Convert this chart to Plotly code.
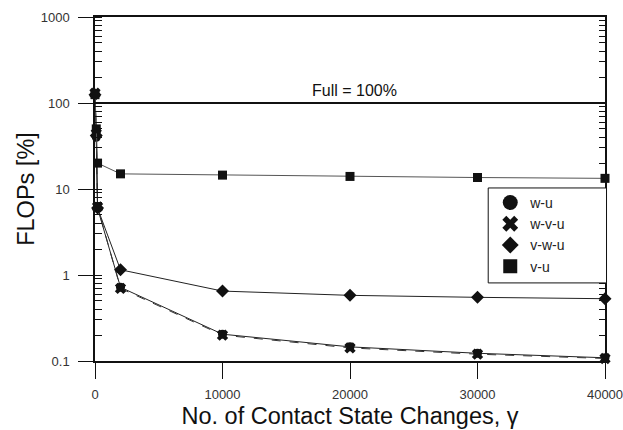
import plotly.graph_objects as go

x_vals = [0, 100, 200, 2000, 10000, 20000, 30000, 40000]
w_u = [125, 40, 6.0, 0.72, 0.205, 0.146, 0.123, 0.109]
w_v_u = [130, 44, 6.2, 0.70, 0.200, 0.142, 0.120, 0.107]
v_w_u = [125, 42, 6.0, 1.15, 0.65, 0.58, 0.55, 0.53]
v_u = [125, 50, 20, 15, 14.5, 14.0, 13.6, 13.3]
full_level = 100

series_names = ["w-u", "w-v-u", "v-w-u", "v-u"]
series_values = [w_u, w_v_u, v_w_u, v_u]

x_ticks = [0, 10000, 20000, 30000, 40000]
y_tickvals = [0.1, 1, 10, 100, 1000]
y_ticktext = ["0.1", "1", "10", "100", "1000"]

symbols = ["circle", "x", "diamond", "square"]
sizes = [9, 10, 10, 9]
leg_sizes = [15, 14, 13, 14]
dashes = ["solid", "dash", "solid", "solid"]
line_colors = ["#222", "#333", "#222", "#555"]

fig = go.Figure()
for name, vals, sym, sz, dsh, lc in zip(series_names, series_values, symbols, sizes, dashes, line_colors):
    fig.add_trace(go.Scatter(x=x_vals, y=vals, name=name, mode="lines+markers", showlegend=False,
                             line=dict(color=lc, width=1, dash=dsh),
                             marker=dict(symbol=sym, size=sz, color="#111"), cliponaxis=False))
for name, sym, lsz in zip(series_names, symbols, leg_sizes):
    fig.add_trace(go.Scatter(x=[None], y=[None], name=name, mode="markers",
                             marker=dict(symbol=sym, size=lsz, color="#111")))

fig.add_shape(type="line", xref="paper", x0=0, x1=1, yref="y", y0=full_level, y1=full_level,
              line=dict(color="#111", width=2))
fig.add_shape(type="rect", xref="paper", yref="paper", x0=0.771, x1=1.003, y0=0.227, y1=0.503,
              line=dict(color="#111", width=1), fillcolor="white", layer="above")
fig.add_annotation(x=0.508, xref="paper", y=2.15, yref="y", text="Full = 100%", showarrow=False,
                   font=dict(family="Arial, Liberation Sans", size=16, color="#111"))

fig.update_layout(
    width=623, height=430,
    margin=dict(l=95, r=18, t=17, b=69),
    paper_bgcolor="white", plot_bgcolor="white",
    font=dict(family="Arial, Liberation Sans", color="#222"),
    showlegend=True,
    legend=dict(x=0.775, y=0.506, xanchor="left", yanchor="top",
                bgcolor="rgba(0,0,0,0)", borderwidth=0,
                font=dict(size=14, color="#222"), itemwidth=30, tracegroupgap=0),
    xaxis=dict(range=[0, 40000], tickvals=x_ticks, ticktext=[str(v) for v in x_ticks],
               ticks="outside", ticklen=16, tickcolor="#111", tickwidth=1,
               showline=True, linecolor="#111", linewidth=1.5, mirror=True,
               showgrid=False, zeroline=False, ticklabeloverflow="allow", automargin=False,
               ticklabelstandoff=5,
               tickfont=dict(size=13, color="#333"),
               title=dict(text="No. of Contact State Changes, γ", font=dict(size=23.5, color="#111"),
                          standoff=6)),
    yaxis=dict(type="log", range=[-1, 3], tickvals=y_tickvals, ticktext=y_ticktext,
               ticks="outside", ticklen=15, tickcolor="#111", tickwidth=1,
               minor=dict(ticks="inside", ticklen=7, tickcolor="#111", dtick="D1", showgrid=False),
               showline=True, linecolor="#111", linewidth=1.5, automargin=False,
               showgrid=False, zeroline=False, ticklabelstandoff=6,
               tickfont=dict(size=13, color="#333"),
               title=dict(text="FLOPs [%]", font=dict(size=23.5, color="#111"), standoff=0)),
    yaxis2=dict(type="log", range=[-1, 3], overlaying="y", side="right",
                tickvals=y_tickvals, showticklabels=False, automargin=False,
                ticks="inside", ticklen=8, tickcolor="#111",
                minor=dict(ticks="inside", ticklen=6, tickcolor="#111", dtick="D1", showgrid=False),
                showline=True, linecolor="#111", linewidth=1.5, showgrid=False, zeroline=False),
)
# invisible trace to activate the mirrored right axis
fig.add_trace(go.Scatter(x=[0], y=[1], yaxis="y2", showlegend=False, hoverinfo="skip",
                         mode="markers", marker=dict(opacity=0)))

fig.write_html("out.html")
